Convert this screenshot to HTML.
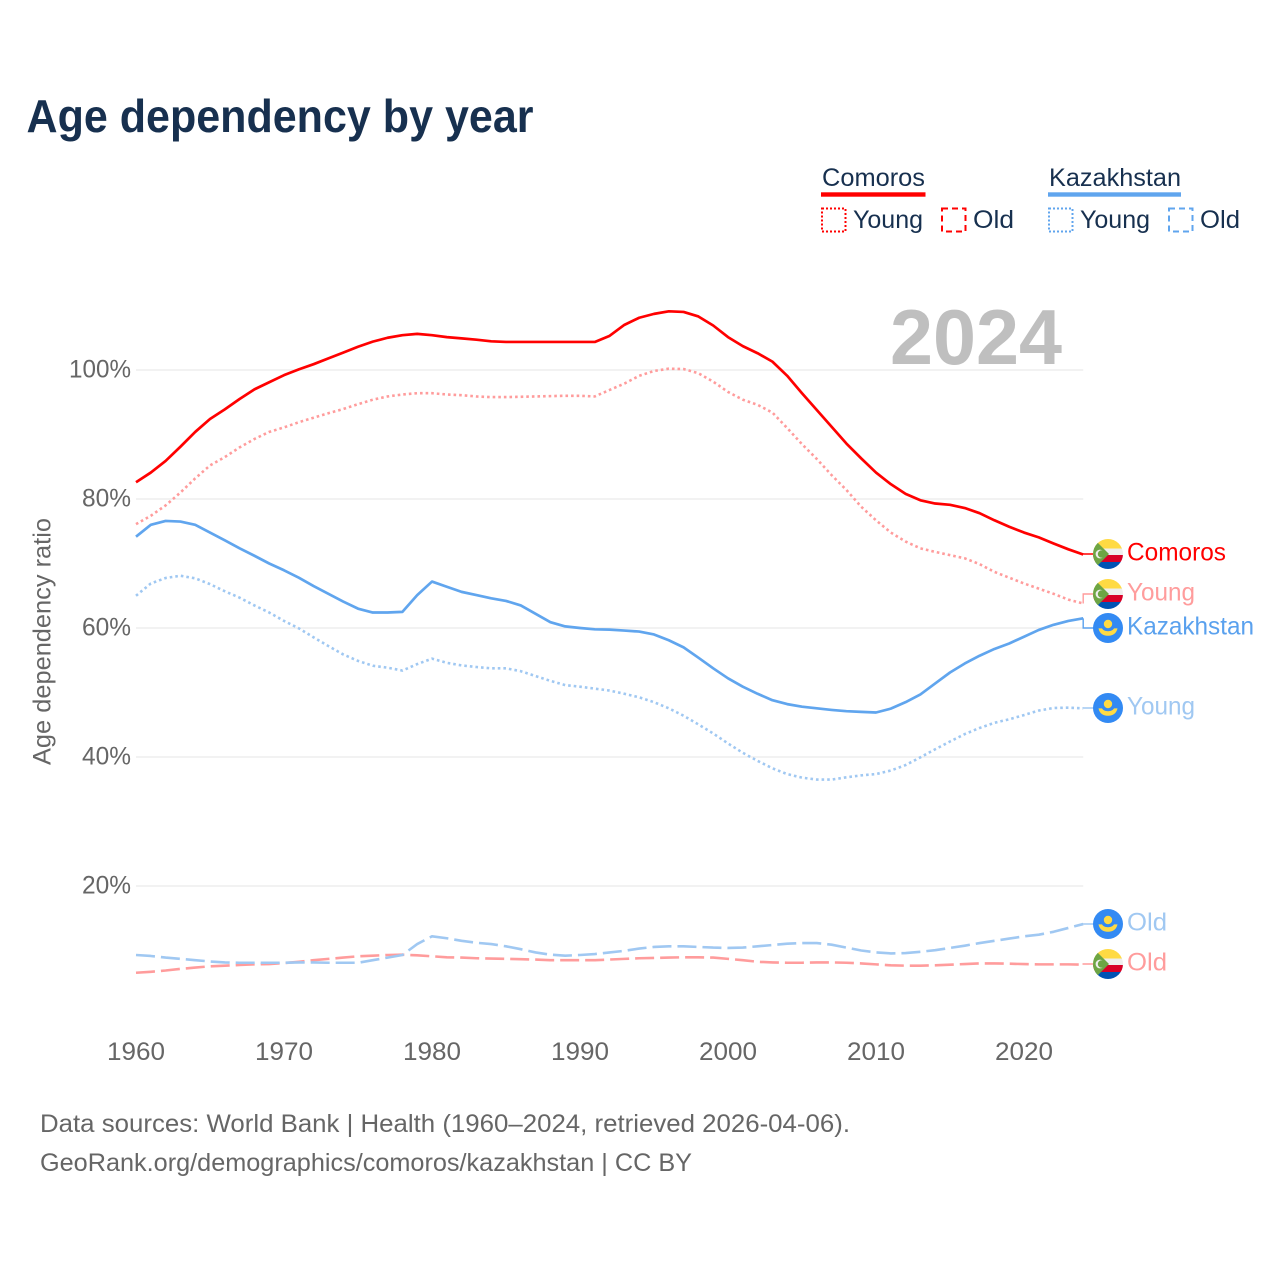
<!DOCTYPE html>
<html lang="en">
<head>
<meta charset="utf-8">
<title>Age dependency by year</title>
<style>
  html,body{margin:0;padding:0;background:#fff;}
  #chart{display:block;width:1280px;height:1280px;font-family:"Liberation Sans",Arial,sans-serif;}
  .ink{fill:#17304f;}
  .muted{fill:#666;}
</style>
</head>
<body>
<svg id="chart" xmlns="http://www.w3.org/2000/svg" width="1280" height="1280" viewBox="0 0 1280 1280">
  <defs>
    <clipPath id="flag-clip"><circle cx="0" cy="0" r="15"/></clipPath>
    <g id="flag-comoros" clip-path="url(#flag-clip)">
      <rect x="-15" y="-15" width="30" height="9.5" fill="#ffda44"/>
      <rect x="-15" y="-5.5" width="30" height="6.5" fill="#eeeeee"/>
      <rect x="-15" y="1" width="30" height="7" fill="#d80027"/>
      <rect x="-15" y="8" width="30" height="7" fill="#0052b4"/>
      <path d="M-15,-15 L-11,-12 L1,0 L-11,12 L-15,15 Z" fill="#6da544"/>
      <circle cx="-8" cy="0" r="4.4" fill="#eee"/>
      <circle cx="-6.4" cy="0" r="3.8" fill="#6da544"/>
    </g>
    <g id="flag-kazakhstan" clip-path="url(#flag-clip)">
      <rect x="-15" y="-15" width="30" height="30" fill="#338af3"/>
      <circle cx="0" cy="-4" r="4.2" fill="#ffda44"/>
      <path d="M-9.5,0.4 L-6,0.4 C-4,4.2 4,4.2 6,0.4 L9.5,0.4 C8,7 3,7.8 0,7.8 C-3,7.8 -8,7 -9.5,0.4 Z" fill="#ffda44"/>
    </g>
  </defs>
  <rect x="0" y="0" width="1280" height="1280" fill="#fff"/>

  <text class="ink" x="26.5" y="132" font-size="46" font-weight="700" textLength="507" lengthAdjust="spacingAndGlyphs">Age dependency by year</text>

  <g>
    <g>
      <text class="ink" x="822" y="186" font-size="25" textLength="103" lengthAdjust="spacingAndGlyphs">Comoros</text>
      <rect x="821" y="192.3" width="104.5" height="4.4" fill="#ff0000"/>
      <rect x="822" y="208.5" width="23.5" height="23" fill="none" stroke="#ff0000" stroke-width="2" stroke-dasharray="2 2"/>
      <text class="ink" x="853" y="228" font-size="25" textLength="70" lengthAdjust="spacingAndGlyphs">Young</text>
      <rect x="942" y="208.5" width="23.5" height="23" fill="none" stroke="#ff0000" stroke-width="2" stroke-dasharray="6 4"/>
      <text class="ink" x="973" y="228" font-size="25" textLength="41" lengthAdjust="spacingAndGlyphs">Old</text>
    </g>
    <g>
      <text class="ink" x="1049" y="186" font-size="25" textLength="132" lengthAdjust="spacingAndGlyphs">Kazakhstan</text>
      <rect x="1048" y="192.3" width="133" height="4.4" fill="#60a5ee"/>
      <rect x="1049" y="208.5" width="23.5" height="23" fill="none" stroke="#60a5ee" stroke-width="2" stroke-dasharray="2 2"/>
      <text class="ink" x="1080" y="228" font-size="25" textLength="70" lengthAdjust="spacingAndGlyphs">Young</text>
      <rect x="1169" y="208.5" width="23.5" height="23" fill="none" stroke="#60a5ee" stroke-width="2" stroke-dasharray="6 4"/>
      <text class="ink" x="1200" y="228" font-size="25" textLength="40" lengthAdjust="spacingAndGlyphs">Old</text>
    </g>
  </g>

  <text class="muted" transform="translate(50.5,765) rotate(-90)" x="0" y="0" font-size="25" textLength="247" lengthAdjust="spacingAndGlyphs">Age dependency ratio</text>

  <g id="grid"></g>
  <g id="y-ticks"></g>
  <g id="x-ticks"></g>

  <text x="890" y="364" font-size="78" font-weight="700" fill="#bfbfbf" textLength="172" lengthAdjust="spacingAndGlyphs">2024</text>

  <g id="series"></g>
  <g id="end-labels"></g>

  <text class="muted" x="40" y="1132" font-size="25" textLength="810" lengthAdjust="spacingAndGlyphs">Data sources: World Bank | Health (1960–2024, retrieved 2026-04-06).</text>
  <text class="muted" x="40" y="1171" font-size="25" textLength="652" lengthAdjust="spacingAndGlyphs">GeoRank.org/demographics/comoros/kazakhstan | CC BY</text>
</svg>

<script>
const firstYear = 1960;
const xTickYears = [1960, 1970, 1980, 1990, 2000, 2010, 2020];
const yTickValues = [20, 40, 60, 80, 100];

const comorosTotal = [82.6,84.1,85.9,88.1,90.4,92.4,93.9,95.5,97.0,98.1,99.2,100.1,100.9,101.8,102.7,103.6,104.4,105.0,105.4,105.6,105.4,105.1,104.9,104.7,104.45,104.35,104.35,104.35,104.35,104.35,104.35,104.35,105.3,107.0,108.1,108.7,109.1,109.0,108.3,106.9,105.1,103.7,102.6,101.3,99.1,96.4,93.8,91.2,88.6,86.3,84.1,82.3,80.8,79.8,79.3,79.1,78.6,77.8,76.7,75.7,74.8,74.05,73.1,72.2,71.4];
const comorosYoung = [76.1,77.4,79.0,81.0,83.2,85.2,86.5,88.0,89.3,90.4,91.1,91.9,92.6,93.3,93.95,94.7,95.4,95.9,96.2,96.4,96.4,96.2,96.1,95.9,95.8,95.8,95.85,95.9,95.95,96.0,96.0,95.9,96.9,97.9,99.1,99.85,100.2,100.15,99.5,98.2,96.6,95.4,94.6,93.4,91.0,88.5,86.2,83.7,81.4,78.8,76.7,74.8,73.4,72.35,71.8,71.3,70.8,69.9,68.7,67.8,66.9,66.1,65.3,64.4,63.8];
const comorosOld = [6.55,6.7,6.9,7.15,7.35,7.55,7.65,7.75,7.85,7.9,8.05,8.25,8.5,8.7,8.9,9.1,9.2,9.3,9.35,9.25,9.1,8.95,8.9,8.8,8.75,8.7,8.65,8.6,8.5,8.5,8.5,8.5,8.6,8.7,8.8,8.85,8.9,8.95,8.95,8.9,8.7,8.5,8.25,8.15,8.1,8.1,8.15,8.15,8.1,8.0,7.85,7.7,7.65,7.65,7.7,7.8,7.9,8.0,8.0,7.95,7.9,7.85,7.85,7.85,7.8];
const kazakhstanTotal = [74.15,76.0,76.6,76.5,76.0,74.8,73.6,72.35,71.2,70.0,68.95,67.8,66.5,65.3,64.1,63.0,62.4,62.4,62.5,65.1,67.2,66.4,65.6,65.1,64.6,64.2,63.5,62.2,60.9,60.25,60.0,59.8,59.75,59.6,59.45,59.0,58.1,57.0,55.4,53.75,52.2,50.9,49.8,48.8,48.2,47.8,47.55,47.3,47.1,47.0,46.9,47.5,48.5,49.7,51.4,53.1,54.5,55.7,56.75,57.6,58.65,59.7,60.5,61.1,61.5];
const kazakhstanYoung = [65.0,66.9,67.75,68.1,67.7,66.8,65.7,64.7,63.5,62.4,61.1,59.95,58.55,57.2,55.9,54.9,54.15,53.85,53.4,54.4,55.25,54.6,54.2,53.95,53.75,53.75,53.3,52.55,51.8,51.15,50.9,50.6,50.3,49.8,49.25,48.5,47.55,46.4,45.05,43.65,42.1,40.65,39.4,38.25,37.35,36.8,36.5,36.5,36.85,37.15,37.35,37.9,38.75,39.95,41.2,42.4,43.55,44.5,45.3,45.85,46.5,47.2,47.6,47.65,47.55];
const kazakhstanOld = [9.3,9.15,8.9,8.7,8.5,8.3,8.15,8.1,8.1,8.1,8.1,8.15,8.15,8.1,8.1,8.1,8.5,8.9,9.3,11.0,12.2,11.9,11.5,11.2,11.0,10.65,10.2,9.7,9.35,9.2,9.3,9.45,9.7,9.95,10.3,10.55,10.65,10.65,10.55,10.45,10.4,10.45,10.65,10.85,11.05,11.15,11.15,10.9,10.45,10.0,9.7,9.55,9.6,9.8,10.05,10.4,10.75,11.15,11.5,11.85,12.2,12.45,12.9,13.5,14.1];

const NS = 'http://www.w3.org/2000/svg';
const plotLeft = 136, plotRight = 1083.2, y100 = 370, yZero = 1015;
function xScale(year) { return plotLeft + (year - firstYear) * (plotRight - plotLeft) / 64; }
function yScale(value) { return yZero - value * (yZero - y100) / 100; }
function make(tag, attrs, parent) {
  const el = document.createElementNS(NS, tag);
  for (const k in attrs) el.setAttribute(k, attrs[k]);
  parent.appendChild(el);
  return el;
}

const gridLayer = document.getElementById('grid');
const yTickLayer = document.getElementById('y-ticks');
yTickValues.forEach(function (v) {
  const line = make('line', {x1: plotLeft, x2: plotRight, y1: yScale(v), y2: yScale(v), stroke: '#eeeeee', 'stroke-width': 1.5}, gridLayer);
  
  
  const label = v + '%';
  const t = make('text', {x: 131, y: yScale(v) + 7.5, 'text-anchor': 'end', 'font-size': 25, class: 'muted', textLength: label.length > 3 ? 62 : 49, lengthAdjust: 'spacingAndGlyphs'}, yTickLayer);
  t.textContent = label;
  
  
});

const xTickLayer = document.getElementById('x-ticks');
xTickYears.forEach(function (yr) {
  const t = make('text', {x: xScale(yr), y: 1060, 'text-anchor': 'middle', 'font-size': 25, class: 'muted', textLength: 58, lengthAdjust: 'spacingAndGlyphs'}, xTickLayer);
  t.textContent = String(yr);
  
  
});

function linePath(values) {
  return values.map(function (v, i) {
    return (i ? 'L' : 'M') + xScale(firstYear + i).toFixed(2) + ',' + yScale(v).toFixed(2);
  }).join(' ');
}

const seriesLayer = document.getElementById('series');
function drawSeries(name, values, color, dash, width) {
  const p = make('path', {d: linePath(values), fill: 'none', stroke: color, 'stroke-width': width, 'stroke-linejoin': 'round'}, seriesLayer);
  if (dash) p.setAttribute('stroke-dasharray', dash);
  
  
}
const RED = '#ff0000', RED_LIGHT = '#ff9c9c', BLUE = '#60a5ee', BLUE_LIGHT = '#a0c8f2';
const DOT = '2.6 3', DASH = '19 6';
drawSeries('line-comoros-old', comorosOld, RED_LIGHT, DASH, 2.6);
drawSeries('line-kazakhstan-old', kazakhstanOld, BLUE_LIGHT, DASH, 2.6);
drawSeries('line-comoros-young', comorosYoung, RED_LIGHT, DOT, 2.6);
drawSeries('line-kazakhstan-young', kazakhstanYoung, BLUE_LIGHT, DOT, 2.6);
drawSeries('line-comoros-total', comorosTotal, RED, null, 2.7);
drawSeries('line-kazakhstan-total', kazakhstanTotal, BLUE, null, 2.7);

const labelLayer = document.getElementById('end-labels');
function drawEnd(key, text, lastValue, labelY, color, flag, width) {
  const ly = yScale(lastValue);
  const c = make('path', {d: 'M' + plotRight + ',' + ly.toFixed(2) + ' L' + plotRight + ',' + labelY + ' L1094,' + labelY, fill: 'none', stroke: color, 'stroke-width': 1.4}, labelLayer);
  
  
  const u = make('use', {href: '#' + flag, x: 1108, y: labelY}, labelLayer);
  
  
  const t = make('text', {x: 1127, y: labelY + 6.5, 'font-size': 25, fill: color, textLength: width, lengthAdjust: 'spacingAndGlyphs'}, labelLayer);
  t.textContent = text;
  
  
}
drawEnd('comoros-total', 'Comoros', comorosTotal[64], 554, RED, 'flag-comoros', 99);
drawEnd('comoros-young', 'Young', comorosYoung[64], 594, RED_LIGHT, 'flag-comoros', 68);
drawEnd('kazakhstan-total', 'Kazakhstan', kazakhstanTotal[64], 628, '#5aa1ee', 'flag-kazakhstan', 127);
drawEnd('kazakhstan-young', 'Young', kazakhstanYoung[64], 708, BLUE_LIGHT, 'flag-kazakhstan', 68);
drawEnd('kazakhstan-old', 'Old', kazakhstanOld[64], 924, BLUE_LIGHT, 'flag-kazakhstan', 40);
drawEnd('comoros-old', 'Old', comorosOld[64], 964, RED_LIGHT, 'flag-comoros', 40);
</script>
</body>
</html>
